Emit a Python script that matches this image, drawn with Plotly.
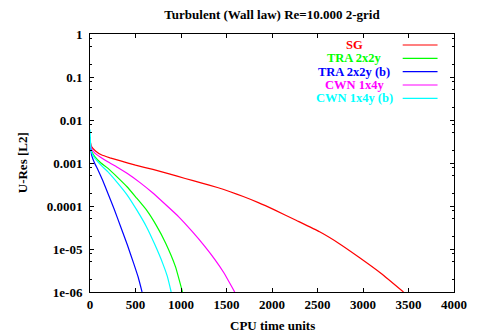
import plotly.graph_objects as go

# ---- data ----
sg_x = [0, 10, 17, 60, 124, 220, 337, 500, 691, 870, 1046, 1220, 1400, 1540, 1684,
        1850, 2027, 2270, 2523, 2740, 2948, 3200, 3445]
sg_y = [3.47e-3, 2.63e-3, 2.40e-3, 1.90e-3, 1.55e-3, 1.32e-3, 1.12e-3, 8.9e-4,
        7.08e-4, 5.6e-4, 4.37e-4, 3.45e-4, 2.69e-4, 2.15e-4, 1.66e-4, 1.2e-4,
        8.13e-5, 4.6e-5, 2.51e-5, 1.33e-5, 6.61e-6, 2.7e-6, 1.0e-6]

tra_x = [0, 10, 25, 53, 120, 195, 300, 407, 510, 620, 730, 833, 939, 1016]
tra_y = [4.0e-3, 2.2e-3, 1.75e-3, 1.41e-3, 1.0e-3, 7.6e-4, 4.7e-4, 2.8e-4, 1.55e-4,
         8.1e-5, 3.5e-5, 1.35e-5, 3.9e-6, 1.0e-6]

trab_x = [0, 10, 17, 50, 88, 140, 195, 265, 337, 410, 479, 530, 572]
trab_y = [3.0e-3, 2.0e-3, 1.55e-3, 1.0e-3, 6.9e-4, 3.9e-4, 2.0e-4, 8.5e-5, 3.3e-5,
          1.25e-5, 4.7e-6, 2.2e-6, 1.0e-6]

cwn_x = [0, 10, 25, 53, 120, 195, 300, 407, 550, 691, 830, 975, 1120, 1259, 1371,
         1471, 1590]
cwn_y = [3.8e-3, 2.4e-3, 2.0e-3, 1.7e-3, 1.35e-3, 1.07e-3, 8.0e-4, 5.75e-4, 3.5e-4,
         2.0e-4, 1.08e-4, 5.6e-5, 2.6e-5, 1.17e-5, 5.75e-6, 2.8e-6, 1.0e-6]

cwnb_x = [0, 10, 25, 53, 120, 195, 300, 407, 515, 620, 710, 798, 850, 892]
cwnb_y = [6.0e-3, 2.1e-3, 1.6e-3, 1.29e-3, 8.9e-4, 6.3e-4, 3.5e-4, 1.82e-4, 8.0e-5,
          3.3e-5, 1.3e-5, 4.7e-6, 2.3e-6, 1.0e-6]

series_names = ["SG", "TRA 2x2y", "TRA 2x2y (b)", "CWN 1x4y", "CWN 1x4y (b)"]
series_colors = ["#ff0000", "#00ff00", "#0000ff", "#ff00ff", "#00ffff"]

x_ticks = [0, 500, 1000, 1500, 2000, 2500, 3000, 3500, 4000]
y_ticks = [1, 0.1, 0.01, 0.001, 0.0001, 0.00001, 0.000001]
y_ticktext = ["1", "0.1", "0.01", "0.001", "0.0001", "1e-05", "1e-06"]
y_minor = [m * d for d in [1e-1, 1e-2, 1e-3, 1e-4, 1e-5, 1e-6] for m in (2, 5, 8)]

FONT = "Liberation Serif"
W, H = 479, 333
ML, MR, MT, MB = 90, 13, 34, 41
pw = W - ML - MR
ph = H - MT - MB

fig = go.Figure()
data = [(sg_x, sg_y), (tra_x, tra_y), (trab_x, trab_y), (cwn_x, cwn_y), (cwnb_x, cwnb_y)]
for (xs, ys), name, col in zip(data, series_names, series_colors):
    fig.add_trace(go.Scatter(x=xs, y=ys, mode="lines", name=name,
                             line=dict(color=col, width=1.2, shape="spline", smoothing=0.4),
                             showlegend=False))

# manual legend (gnuplot style: centered coloured text, then line sample)
row_px = [45, 58.3, 71.7, 85, 98.3]
shapes = []
annotations = []
for name, col, py in zip(series_names, series_colors, row_px):
    yp = (H - MB - py) / ph
    annotations.append(dict(text=name, x=(363 - ML) / pw, y=yp, xref="paper", yref="paper",
                            xanchor="center", yanchor="middle", showarrow=False, borderpad=0,
                            font=dict(family=FONT, size=12.5, color=col, weight="bold")))
    shapes.append(dict(type="line", xref="paper", yref="paper",
                       x0=(413 - ML) / pw, x1=(449 - ML) / pw, y0=yp, y1=yp,
                       line=dict(color=col, width=1.2)))

annotations.append(dict(text="CPU time units", x=0.5, y=(H - MB - 325) / ph,
                        xref="paper", yref="paper",
                        yanchor="middle", xanchor="center", showarrow=False,
                        font=dict(family=FONT, size=13, color="black", weight="bold")))
annotations.append(dict(text="U-Res [L2]", x=-(ML - 20) / pw, y=0.5, xref="paper", yref="paper",
                        xanchor="center", yanchor="middle", showarrow=False, textangle=-90,
                        font=dict(family=FONT, size=13, color="black", weight="bold")))

fig.update_layout(
    width=W, height=H,
    margin=dict(l=ML, r=MR, t=MT, b=MB),
    paper_bgcolor="white", plot_bgcolor="white",
    title=dict(text="Turbulent (Wall law) Re=10.000 2-grid", x=0.5, xref="paper",
               xanchor="center", y=1 - 14 / H, yanchor="middle",
               font=dict(family=FONT, size=13, color="black", weight="bold")),
    shapes=shapes, annotations=annotations,
    showlegend=False,
)
fig.update_xaxes(range=[0, 4000], tickvals=x_ticks, ticks="inside", ticklen=4,
                 tickcolor="black", showline=True, linecolor="black", linewidth=1,
                 mirror="allticks", showgrid=False, zeroline=False,
                 tickfont=dict(family=FONT, size=13, color="black", weight="bold"))
fig.update_yaxes(type="log", range=[-6, 0], tickvals=y_ticks, ticktext=y_ticktext,
                 ticks="inside", ticklen=4, tickcolor="black", showline=True,
                 linecolor="black", linewidth=1, mirror="allticks", showgrid=False,
                 zeroline=False, ticklabelstandoff=4,
                 minor=dict(tickvals=y_minor, ticks="inside", ticklen=2, tickcolor="black"),
                 tickfont=dict(family=FONT, size=13, color="black", weight="bold"))

fig.write_html("out.html")
